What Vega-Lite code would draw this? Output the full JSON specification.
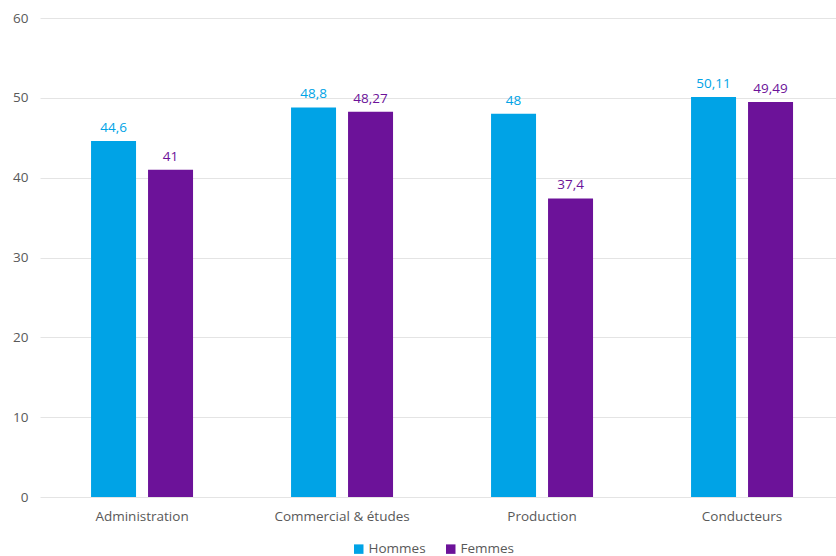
{
  "$schema": "https://vega.github.io/schema/vega-lite/v6.json",
  "width": 796,
  "height": 479,
  "autosize": {"type": "none"},
  "padding": {"left": 40, "top": 18, "right": 0, "bottom": 59},
  "background": "white",
  "config": {
    "view": {"stroke": null},
    "font": "Open Sans",
    "locale": {"number": {"decimal": ",", "thousands": " ", "grouping": [3], "currency": ["", " €"]}},
    "axis": {"labelFont": "Open Sans", "labelFontSize": 13.5, "labelColor": "#595959", "domain": false, "ticks": false, "title": null},
    "legend": {"labelFont": "Open Sans", "labelFontSize": 13.5, "labelColor": "#595959"}
  },
  "data": {
    "values": [
      {"categorie": "Administration", "sexe": "Hommes", "valeur": 44.6},
      {"categorie": "Administration", "sexe": "Femmes", "valeur": 41},
      {"categorie": "Commercial & études", "sexe": "Hommes", "valeur": 48.8},
      {"categorie": "Commercial & études", "sexe": "Femmes", "valeur": 48.27},
      {"categorie": "Production", "sexe": "Hommes", "valeur": 48},
      {"categorie": "Production", "sexe": "Femmes", "valeur": 37.4},
      {"categorie": "Conducteurs", "sexe": "Hommes", "valeur": 50.11},
      {"categorie": "Conducteurs", "sexe": "Femmes", "valeur": 49.49}
    ]
  },
  "encoding": {
    "x": {
      "field": "categorie", "type": "nominal", "sort": null,
      "scale": {"paddingInner": 0.49, "paddingOuter": 0.235, "align": 0.543},
      "axis": {"labelAngle": 0, "labelPadding": 12, "grid": false}
    },
    "xOffset": {
      "field": "sexe", "type": "nominal", "sort": ["Hommes", "Femmes"],
      "scale": {"paddingInner": 0.2105, "paddingOuter": 0}
    },
    "y": {
      "field": "valeur", "type": "quantitative",
      "scale": {"domain": [0, 60], "nice": false},
      "axis": {"values": [0, 10, 20, 30, 40, 50, 60], "labelPadding": 12, "gridColor": "#e4e4e4", "gridWidth": 1}
    },
    "color": {
      "field": "sexe", "type": "nominal", "sort": ["Hommes", "Femmes"],
      "scale": {"domain": ["Hommes", "Femmes"], "range": ["#00A3E6", "#6C1299"]},
      "legend": {
        "title": null, "orient": "none", "direction": "horizontal",
        "legendX": 312, "legendY": 524, "symbolType": "square", "symbolSize": 90,
        "symbolStrokeWidth": 0, "labelOffset": 3, "columnPadding": 18, "padding": 0
      }
    }
  },
  "layer": [
    {"mark": {"type": "bar", "stroke": "white", "strokeWidth": 0}},
    {
      "mark": {"type": "text", "baseline": "bottom", "dy": -6, "fontSize": 13.5, "font": "Open Sans"},
      "encoding": {
        "text": {"field": "valeur", "type": "quantitative", "format": ".4~g"},
        "color": {
          "field": "sexe", "type": "nominal",
          "scale": {"domain": ["Hommes", "Femmes"], "range": ["#00A3E6", "#6C1299"]},
          "legend": null
        }
      }
    }
  ]
}
